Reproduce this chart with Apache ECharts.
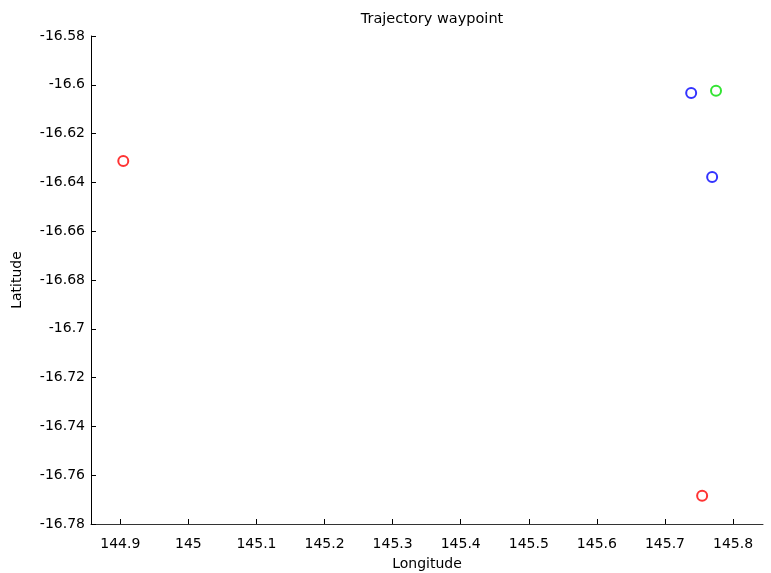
<!DOCTYPE html>
<html>
<head>
<meta charset="utf-8">
<script src="https://cdn.jsdelivr.net/npm/echarts@6/dist/echarts.min.js"></script>
<style>html,body{margin:0;padding:0;background:#fff}#c{width:771px;height:573px}</style>
</head>
<body>
<div id="c"></div>
<script>
const redPoints = [[144.9044, -16.6312], [145.7546, -16.7684]];
const bluePoints = [[145.7385, -16.6034], [145.7693, -16.6378]];
const greenPoints = [[145.7750, -16.6024]];
const xTicks = [144.9, 145.0, 145.1, 145.2, 145.3, 145.4, 145.5, 145.6, 145.7, 145.8];
const yTicks = [-16.78, -16.76, -16.74, -16.72, -16.7, -16.68, -16.66, -16.64, -16.62, -16.6, -16.58];
const xRange = [144.857, 145.844];
const yRange = [-16.78, -16.58];

const chart = echarts.init(document.getElementById('c'), null, {renderer: 'canvas'});
const font = 'DejaVu Sans, sans-serif';
function fmt(v) { return String(parseFloat(v.toFixed(2))); }
const mk = (data, color) => ({
  type: 'scatter', data: data, symbol: 'emptyCircle', symbolSize: 10,
  itemStyle: {color: color, borderColor: color, borderWidth: 1},
  emphasis: {disabled: true}
});
chart.setOption({
  animation: false,
  title: {text: 'Trajectory waypoint', left: 427, top: 7, textAlign: 'center',
    textStyle: {fontFamily: font, fontSize: 14.5, fontWeight: 'normal', color: '#000'}},
  grid: {left: 91, right: 8, top: 36, bottom: 49, outerBoundsMode: 'none', containLabel: false},
  xAxis: {
    type: 'value', min: xRange[0], max: xRange[1],
    name: 'Longitude', nameLocation: 'middle', nameGap: 33,
    nameTextStyle: {fontFamily: font, fontSize: 14, color: '#000'},
    axisLine: {show: true, onZero: false, lineStyle: {color: '#333', width: 1}},
    axisTick: {show: true, inside: true, length: 5, customValues: xTicks, lineStyle: {color: '#000'}},
    axisLabel: {customValues: xTicks, formatter: fmt, margin: 13, fontFamily: font, fontSize: 14, color: '#000'},
    splitLine: {show: false}
  },
  yAxis: {
    type: 'value', min: yRange[0], max: yRange[1], interval: 0.02,
    name: 'Latitude', nameLocation: 'middle', nameGap: 67, nameRotate: 90,
    nameTextStyle: {fontFamily: font, fontSize: 14, color: '#000'},
    axisLine: {show: true, onZero: false, lineStyle: {color: '#000', width: 1}},
    axisTick: {show: true, inside: true, length: 5, lineStyle: {color: '#000'}},
    axisLabel: {formatter: fmt, margin: 6, fontFamily: font, fontSize: 14, color: '#000'},
    splitLine: {show: false}
  },
  series: [mk(redPoints, '#ff0000'), mk(bluePoints, '#0000ff'), mk(greenPoints, '#00dd00')]
});
</script>
</body>
</html>
